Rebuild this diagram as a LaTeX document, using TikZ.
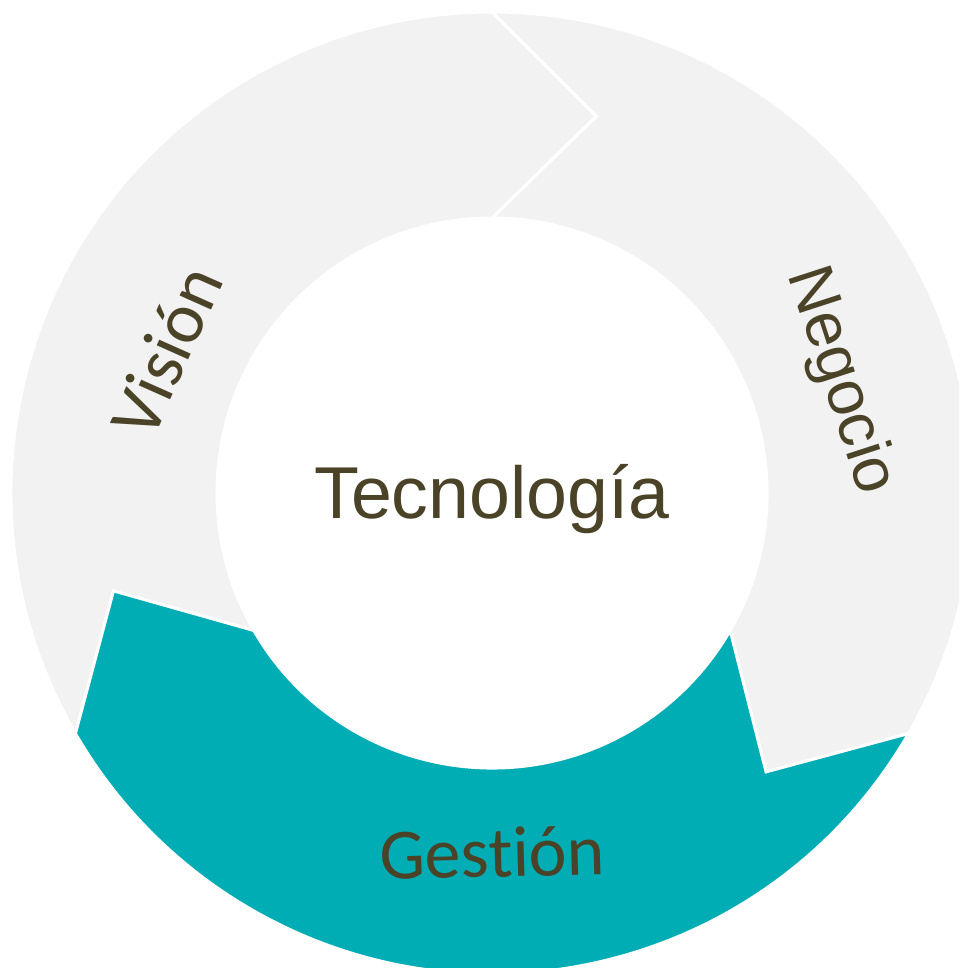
\documentclass[tikz,border=0pt]{standalone}
\usepackage{fontspec}
\setmainfont{Liberation Sans}
\newfontfamily\calibri[Ligatures=NoCommon]{Carlito}
\definecolor{ringgray}{HTML}{F2F2F2}
\definecolor{tealseg}{HTML}{00ADB5}
\definecolor{txt}{HTML}{4B4328}
\begin{document}
\begin{tikzpicture}[x=1pt,y=1pt,
  seg/.style={draw=white,line width=3pt,line join=miter},
  lbl/.style={text=txt,inner sep=0pt}]
\useasboundingbox (0,-968) rectangle (959,0);
\clip (0,-968) rectangle (959,0);
\fill[white] (0,-968) rectangle (959,0);
\begin{scope}[shift={(492,-493)}]
\def\Ro{481}\def\Ri{275}\def\Rm{391}
% Vision (left, gray)
\filldraw[seg,fill=ringgray] (210:\Ro) arc[start angle=210,end angle=90,radius=\Ro]
  -- (74.5:\Rm) -- (90:\Ri) arc[start angle=90,end angle=210,radius=\Ri]
  -- (194.5:\Rm) -- cycle;
% Negocio (right, gray)
\filldraw[seg,fill=ringgray] (90:\Ro) arc[start angle=90,end angle=-30,radius=\Ro]
  -- (-45.5:\Rm) -- (-30:\Ri) arc[start angle=-30,end angle=90,radius=\Ri]
  -- (74.5:\Rm) -- cycle;
% Gestion (bottom, teal)
\filldraw[seg,fill=tealseg] (-30:\Ro) arc[start angle=-30,end angle=-150,radius=\Ro]
  -- (-165.5:\Rm) -- (-150:\Ri) arc[start angle=-150,end angle=-30,radius=\Ri]
  -- (-45.5:\Rm) -- cycle;
\end{scope}
\node[lbl,anchor=base] (tec) at (492,-518) {\fontsize{73.5}{80}\selectfont Tecnología};
\node[lbl,anchor=base,rotate=1.5] (ges) at (493,-877) {\calibri\fontsize{72}{80}\selectfont Gestión};
\node[lbl,rotate=66] (vis) at (166,-351) {\calibri\fontsize{72}{80}\selectfont Visión};
\node[lbl,rotate=-72] (neg) at (840,-381) {\fontsize{64}{70}\selectfont Negocio};
\end{tikzpicture}
\end{document}
